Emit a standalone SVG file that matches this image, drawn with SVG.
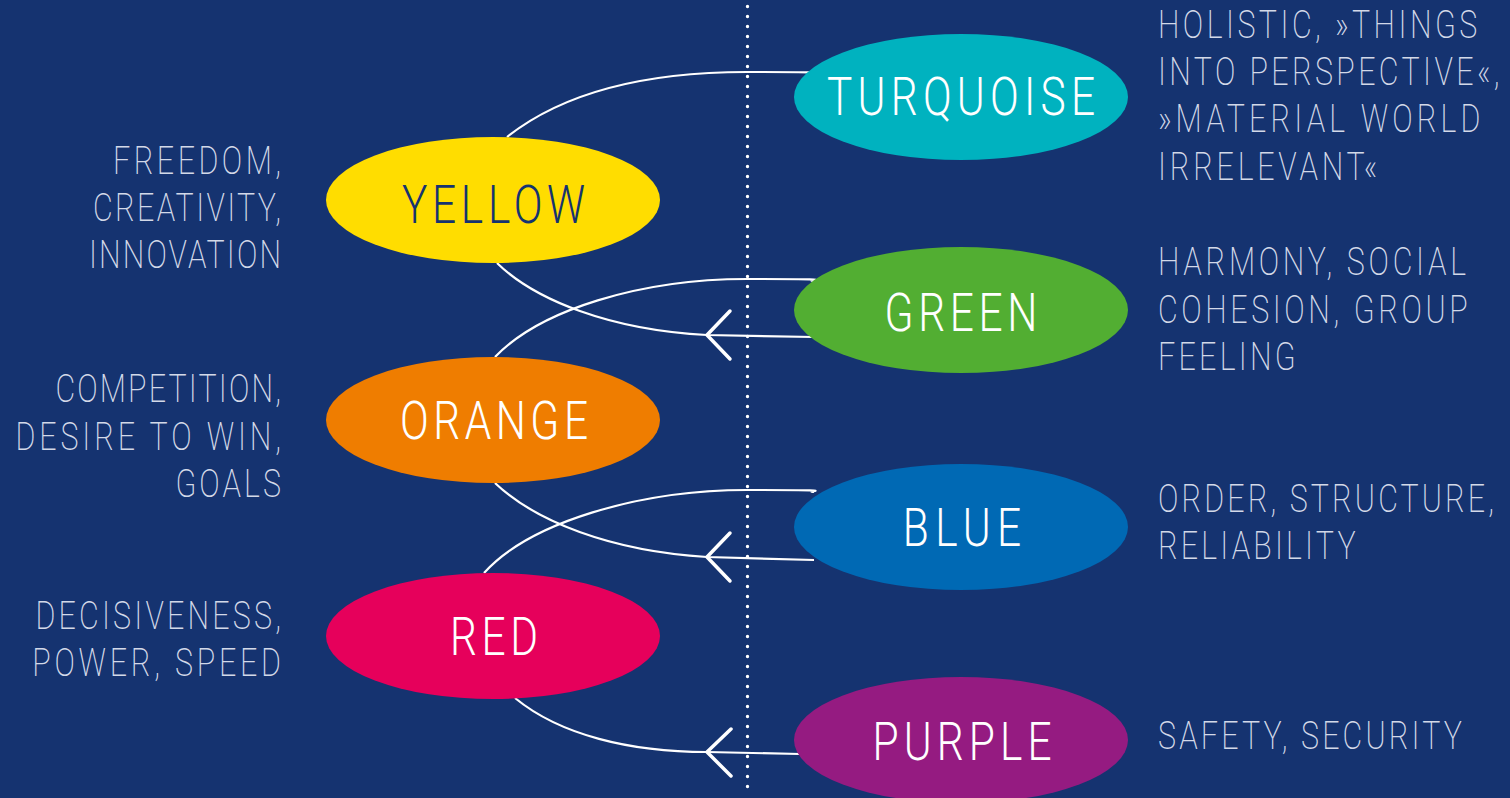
<svg xmlns="http://www.w3.org/2000/svg" width="1510" height="798" viewBox="0 0 1510 798">
  <style>
    .bg { fill: #153370; }
    .link { fill: none; stroke: #ffffff; stroke-width: 2.2; }
    .head { fill: none; stroke: #ffffff; stroke-width: 3.5; stroke-linecap: round; stroke-linejoin: round; }
    .divider { fill: none; stroke: #ffffff; stroke-width: 3.4; stroke-linecap: round; stroke-dasharray: 0 10; }
    .label { font-family: Roboto, "Liberation Sans", sans-serif; font-weight: 300; font-size: 53px; text-anchor: middle; fill: #ffffff; }
    .label.dark { fill: #153370; }
    .note { font-family: Roboto, "Liberation Sans", sans-serif; font-weight: 200; font-size: 38px; fill: #d3d9e8; }
    .left text { text-anchor: end; }
    .right text { text-anchor: start; }
  </style>

  <rect class="bg" x="0" y="0" width="1510" height="798"/>

  <!-- spiral of connectors between the colour stages -->
  <g id="connectors">
    <path class="link" d="M507,137 C560,95 640,72 747,72 S800,73 814,74"/>
    <path class="link" d="M497,263 C535,300 610,330 707,335 L814,337"/>
    <path class="head" d="M730,311 L707,335 L730,359"/>
    <path class="link" d="M495,357 C540,310 640,279 747,279 S800,280 814,281"/>
    <path class="link" d="M495,483 C535,521 610,551 707,557 L814,560"/>
    <path class="head" d="M730,533 L707,557 L730,581"/>
    <path class="link" d="M484,573 C530,522 640,490 747,490 S800,491 814,492"/>
    <path class="link" d="M515,698 C560,735 630,752 707,752 L800,754"/>
    <path class="head" d="M731,729 L707,752 L731,776"/>
  </g>

  <path id="divider" class="divider" d="M747.5,6.5 L747.5,791"/>

  <!-- stage nodes; labels are narrowed horizontally for a condensed look -->
  <g id="turquoise">
    <ellipse cx="961" cy="97" rx="167" ry="63" fill="#00b2bf"/>
    <g transform="translate(961,0) scale(0.8,1)"><text class="label" x="0" y="115" textLength="335" lengthAdjust="spacing">TURQUOISE</text></g>
  </g>
  <g id="yellow">
    <ellipse cx="493" cy="200" rx="167" ry="63" fill="#ffdd00"/>
    <g transform="translate(493.5,0) scale(0.8,1)"><text class="label dark" x="0" y="223" textLength="229" lengthAdjust="spacing">YELLOW</text></g>
  </g>
  <g id="green">
    <ellipse cx="961" cy="310" rx="167" ry="63" fill="#52ae32"/>
    <g transform="translate(961,0) scale(0.8,1)"><text class="label" x="0" y="331" textLength="191" lengthAdjust="spacing">GREEN</text></g>
  </g>
  <g id="orange">
    <ellipse cx="493" cy="420" rx="167" ry="63" fill="#ef7d00"/>
    <g transform="translate(494,0) scale(0.8,1)"><text class="label" x="0" y="439" textLength="235" lengthAdjust="spacing">ORANGE</text></g>
  </g>
  <g id="blue">
    <ellipse cx="961" cy="527" rx="167" ry="63" fill="#0069b4"/>
    <g transform="translate(962,0) scale(0.8,1)"><text class="label" x="0" y="546" textLength="148" lengthAdjust="spacing">BLUE</text></g>
  </g>
  <g id="red">
    <ellipse cx="493" cy="636" rx="167" ry="63" fill="#e6005b"/>
    <g transform="translate(494,0) scale(0.8,1)"><text class="label" x="0" y="655" textLength="110" lengthAdjust="spacing">RED</text></g>
  </g>
  <g id="purple">
    <ellipse cx="961" cy="740" rx="167" ry="63" fill="#951b81"/>
    <g transform="translate(962,0) scale(0.8,1)"><text class="label" x="0" y="760" textLength="224" lengthAdjust="spacing">PURPLE</text></g>
  </g>

  <!-- value notes, left column (right-aligned at x=281) -->
  <g class="note left" transform="translate(281,0) scale(0.8,1)">
    <g id="notes-yellow">
      <text x="0" y="174" textLength="210" lengthAdjust="spacing">FREEDOM,</text>
      <text x="0" y="221" textLength="235" lengthAdjust="spacing">CREATIVITY,</text>
      <text x="0" y="268" textLength="240" lengthAdjust="spacing">INNOVATION</text>
    </g>
    <g id="notes-orange">
      <text x="0" y="402" textLength="282" lengthAdjust="spacing">COMPETITION,</text>
      <text x="0" y="450" textLength="332" lengthAdjust="spacing">DESIRE TO WIN,</text>
      <text x="0" y="497" textLength="132" lengthAdjust="spacing">GOALS</text>
    </g>
    <g id="notes-red">
      <text x="0" y="629" textLength="307" lengthAdjust="spacing">DECISIVENESS,</text>
      <text x="0" y="676" textLength="311" lengthAdjust="spacing">POWER, SPEED</text>
    </g>
  </g>

  <!-- value notes, right column (left-aligned at x=1158) -->
  <g class="note right" transform="translate(1158,0) scale(0.8,1)">
    <g id="notes-turquoise">
      <text x="0" y="38" textLength="399" lengthAdjust="spacing">HOLISTIC, »THINGS</text>
      <text x="0" y="85" textLength="427" lengthAdjust="spacing">INTO PERSPECTIVE«,</text>
      <text x="0" y="132" textLength="403" lengthAdjust="spacing">»MATERIAL WORLD</text>
      <text x="0" y="180" textLength="274" lengthAdjust="spacing">IRRELEVANT«</text>
    </g>
    <g id="notes-green">
      <text x="0" y="275" textLength="385" lengthAdjust="spacing">HARMONY, SOCIAL</text>
      <text x="0" y="323" textLength="387" lengthAdjust="spacing">COHESION, GROUP</text>
      <text x="0" y="370" textLength="172" lengthAdjust="spacing">FEELING</text>
    </g>
    <g id="notes-blue">
      <text x="0" y="512" textLength="420" lengthAdjust="spacing">ORDER, STRUCTURE,</text>
      <text x="0" y="559" textLength="247" lengthAdjust="spacing">RELIABILITY</text>
    </g>
    <g id="notes-purple">
      <text x="0" y="749" textLength="380" lengthAdjust="spacing">SAFETY, SECURITY</text>
    </g>
  </g>
</svg>
